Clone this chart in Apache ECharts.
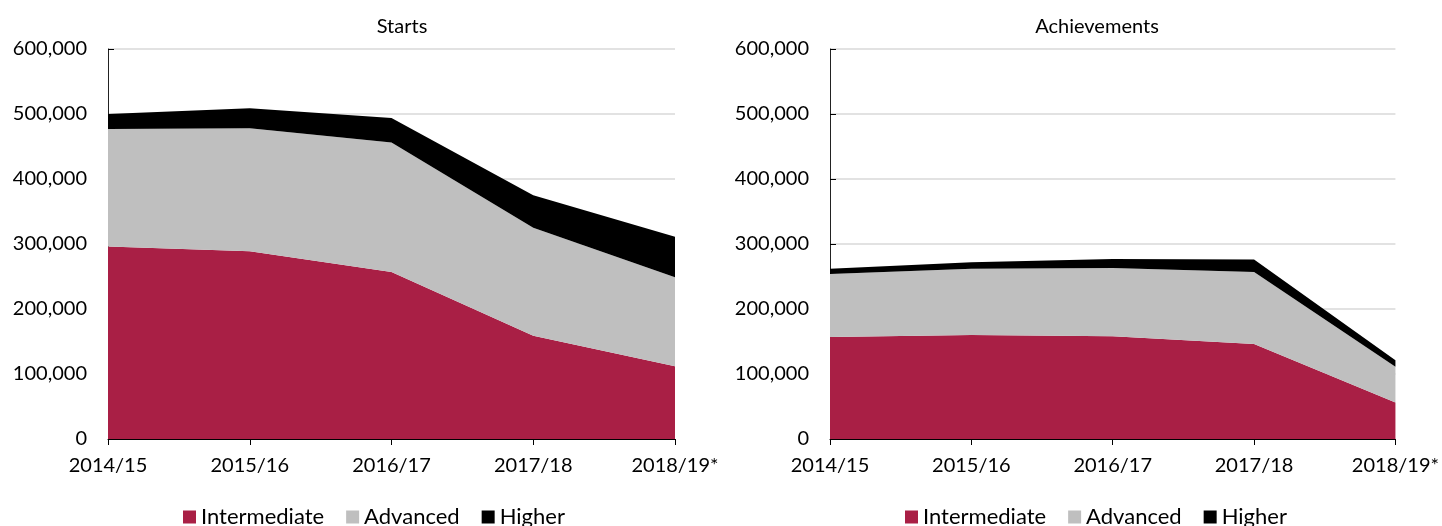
<!DOCTYPE html>
<html>
<head>
<meta charset="utf-8">
<script src="https://cdn.jsdelivr.net/npm/echarts@6/dist/echarts.min.js"></script>
<style>
  html, body { margin: 0; padding: 0; background: #fff; }
  #chart { width: 1442px; height: 526px; }
</style>
</head>
<body>
<div id="chart"></div>
<script>
const years = ['2014/15', '2015/16', '2016/17', '2017/18', '2018/19*']
const levels = ['Intermediate', 'Advanced', 'Higher']
const colors = ['#A91F45', '#BFBFBF', '#000000']

// Starts
const startsIntermediate = [296000, 289000, 257000, 159000, 112000]
const startsAdvanced = [181000, 189000, 199000, 166000, 137000]
const startsHigher = [23000, 31000, 38000, 50000, 62000]

// Achievements
const achIntermediate = [157000, 160000, 158000, 146000, 56000]
const achAdvanced = [97000, 102000, 105000, 111000, 55000]
const achHigher = [8000, 10000, 14000, 19000, 10000]

const yTicks = [0, 100000, 200000, 300000, 400000, 500000, 600000]

const font = 'Lato, "Open Sans", sans-serif'
const chart = echarts.init(document.getElementById('chart'))

function xAxis(idx) {
  return {
    type: 'category',
    gridIndex: idx,
    data: years,
    boundaryGap: false,
    axisLine: { lineStyle: { color: '#000', width: 1 } },
    axisTick: { show: true, inside: false, length: 6, lineStyle: { color: '#000' } },
    axisLabel: { color: '#000', fontSize: 20, fontFamily: font, margin: 17, interval: 0 },
    splitLine: { show: false }
  }
}

function yAxis(idx) {
  return {
    type: 'value',
    gridIndex: idx,
    min: yTicks[0],
    max: yTicks[yTicks.length - 1],
    interval: 100000,
    axisLine: { show: true, lineStyle: { color: '#222', width: 1 } },
    axisTick: { show: true, inside: true, length: 6, lineStyle: { color: '#000' } },
    axisLabel: {
      color: '#000', fontSize: 20, fontFamily: font, margin: 21,
      formatter: v => v.toLocaleString('en-GB')
    },
    splitLine: { show: true, lineStyle: { color: '#D9D9D9', width: 1.5 } }
  }
}

function areaSeries(idx, stackName, dataSets) {
  return dataSets.map((d, i) => ({
    name: levels[i],
    type: 'line',
    xAxisIndex: idx,
    yAxisIndex: idx,
    stack: stackName,
    data: d,
    symbol: 'none',
    lineStyle: { width: 0 },
    areaStyle: { color: colors[i], opacity: 1 },
    itemStyle: { color: colors[i] },
    emphasis: { disabled: true }
  }))
}

function legend(left) {
  return {
    left: left,
    top: 501,
    data: levels,
    icon: 'rect',
    itemWidth: 13,
    itemHeight: 13,
    itemGap: 22,
    textStyle: { color: '#000', fontSize: 22, fontFamily: font, padding: [0, 0, 0, 0] }
  }
}

chart.setOption({
  animation: false,
  title: [
    { text: 'Starts', left: 397, top: 12, textAlign: 'center',
      textStyle: { fontSize: 20, fontWeight: 'normal', color: '#000', fontFamily: font } },
    { text: 'Achievements', left: 1092, top: 12, textAlign: 'center',
      textStyle: { fontSize: 20, fontWeight: 'normal', color: '#000', fontFamily: font } }
  ],
  legend: [legend(178), legend(900)],
  grid: [
    { left: 108, right: 767, top: 49, bottom: 87 },
    { left: 830, right: 44, top: 49, bottom: 87 }
  ],
  xAxis: [xAxis(0), xAxis(1)],
  yAxis: [yAxis(0), yAxis(1)],
  series: [
    ...areaSeries(0, 'starts', [startsIntermediate, startsAdvanced, startsHigher]),
    ...areaSeries(1, 'ach', [achIntermediate, achAdvanced, achHigher])
  ]
})
</script>
</body>
</html>
